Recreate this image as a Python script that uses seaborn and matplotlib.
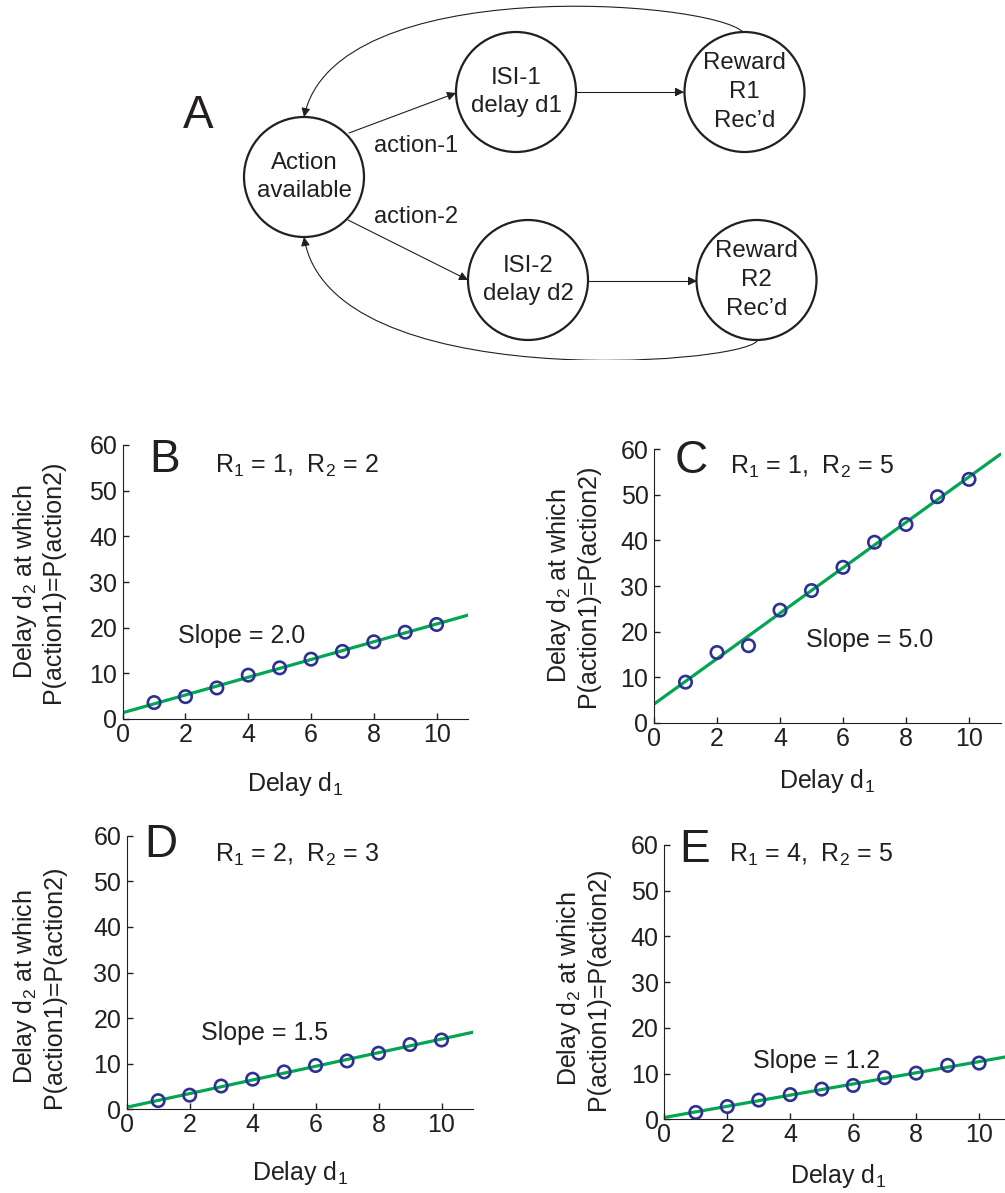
import numpy as np
import pandas as pd
import matplotlib
matplotlib.use("Agg")
import matplotlib.pyplot as plt
import seaborn as sns
from matplotlib.patches import Circle, FancyArrowPatch
from matplotlib.path import Path

# ---------------- data ----------------
delay_d1 = [1, 2, 3, 4, 5, 6, 7, 8, 9, 10]
d2_B = [3.6, 4.9, 6.8, 9.6, 11.2, 13.1, 14.8, 16.9, 19.0, 20.7]
d2_C = [8.9, 15.4, 16.9, 24.7, 29.0, 34.1, 39.6, 43.5, 49.6, 53.4]
d2_D = [1.9, 3.1, 5.1, 6.6, 8.2, 9.6, 10.6, 12.3, 14.2, 15.2]
d2_E = [1.5, 2.8, 4.2, 5.4, 6.6, 7.4, 9.1, 10.1, 11.8, 12.3]

panel_letters = ["B", "C", "D", "E"]
reward_labels = ["R$_1$ = 1,  R$_2$ = 2", "R$_1$ = 1,  R$_2$ = 5",
                 "R$_1$ = 2,  R$_2$ = 3", "R$_1$ = 4,  R$_2$ = 5"]
slope_labels = ["Slope = 2.0", "Slope = 5.0", "Slope = 1.5", "Slope = 1.2"]
x_ticks = [0, 2, 4, 6, 8, 10]
y_ticks = [0, 10, 20, 30, 40, 50, 60]
x_label = "Delay d$_1$"
y_label = "Delay d$_2$ at which\nP(action1)=P(action2)"

node_labels = ["Action\navailable", "ISI-1\ndelay d1", "Reward\nR1\nRec\u2019d",
               "ISI-2\ndelay d2", "Reward\nR2\nRec\u2019d"]
edge_labels = ["action-1", "action-2"]

# ---------------- style ----------------
sns.set_style("ticks", rc={
    "xtick.direction": "in", "ytick.direction": "in",
    "axes.edgecolor": "#231f20", "axes.linewidth": 1.4,
    "xtick.color": "#231f20", "ytick.color": "#231f20",
    "text.color": "#231f20", "axes.labelcolor": "#231f20",
})
plt.rcParams["font.family"] = ["Liberation Sans", "DejaVu Sans"]
plt.rcParams["mathtext.fontset"] = "custom"
plt.rcParams["mathtext.rm"] = "Liberation Sans"
plt.rcParams["mathtext.it"] = "Liberation Sans"
plt.rcParams["mathtext.default"] = "regular"

TXT = "#231f20"
BLUE = "#2e3192"
GREEN = "#00a651"
W, H = 1005, 1193

fig = plt.figure(figsize=(W / 100, H / 100), dpi=100)

# ---------------- diagram (panel A) ----------------
axd = fig.add_axes([0, 1 - 360 / H, 1, 360 / H])
axd.set_xlim(0, W)
axd.set_ylim(360, 0)
axd.axis("off")

node_xy = [(304, 177), (516, 92), (744.5, 92), (528, 280), (756.5, 280)]
R = 60
for (cx, cy), lab in zip(node_xy, node_labels):
    axd.add_patch(Circle((cx, cy), R, fill=False, ec=TXT, lw=1.6))
    lines = lab.split("\n")
    n = len(lines)
    for i, ln in enumerate(lines):
        yy = cy + (i - (n - 1) / 2) * 28.8
        axd.text(cx, yy, ln, ha="center", va="center", fontsize=17.3, color=TXT)

def arrow(path_pts, codes=None):
    if codes is None:
        codes = [Path.MOVETO] + [Path.LINETO] * (len(path_pts) - 1)
    p = FancyArrowPatch(path=Path(path_pts, codes), arrowstyle="-|>",
                        mutation_scale=13, lw=0.8, color=TXT,
                        shrinkA=0, shrinkB=0)
    axd.add_patch(p)

arrow([(349, 133), (456, 93)])
arrow([(348, 220), (468, 280)])
arrow([(576, 92), (684, 92)])
arrow([(588, 281), (697, 281)])
C4 = [Path.MOVETO, Path.CURVE4, Path.CURVE4, Path.CURVE4]
arrow([(743, 32), (710, 0), (335, -28), (304, 117)], C4)
arrow([(757, 341), (740, 365), (330, 395), (304, 237)], C4)

axd.text(374, 146, edge_labels[0], ha="left", va="center", fontsize=17, color=TXT)
axd.text(374, 217, edge_labels[1], ha="left", va="center", fontsize=17, color=TXT)
axd.text(183, 128, "A", ha="left", va="baseline", fontsize=33, color=TXT)

# ---------------- scatter panels ----------------
boxes = [(122.7, 445, 468, 719), (654, 449.3, 1000.5, 722.7),
         (126.7, 835.7, 473, 1109.3), (664.3, 845, 1010.6, 1119.3)]
series = [d2_B, d2_C, d2_D, d2_E]
letter_pos = [(0.83, 54.1), (0.67, 54.8), (0.56, 55.4), (0.48, 56.3)]
reward_pos = [(2.93, 53.9), (2.42, 54.7), (2.79, 54.3), (2.07, 56.3)]
slope_pos = [(1.76, 16.6), (4.83, 16.7), (2.36, 15.2), (2.81, 11.2)]
ylab_coords = [(-0.166, 0.5), (-0.156, 0.502), (-0.176, 0.447), (-0.157, 0.475)]
xlab_coords = [(0.5, -0.185), (0.5, -0.162), (0.5, -0.18), (0.5, -0.157)]

for i, (l, t, r, b) in enumerate(boxes):
    ax = fig.add_axes([l / W, 1 - b / H, (r - l) / W, (b - t) / H])
    ax.set_xlim(0, 11)
    ax.set_ylim(0, 60)
    df = pd.DataFrame({"d1": delay_d1, "d2": series[i]})
    sns.regplot(data=df, x="d1", y="d2", ax=ax, scatter=False, ci=None,
                truncate=False, color=GREEN, line_kws={"lw": 2.3})
    sns.scatterplot(data=df, x="d1", y="d2", ax=ax, s=80, marker="o",
                    facecolors="none", edgecolor=BLUE, linewidth=1.9,
                    zorder=3)
    ax.set_xlim(0, 11)
    ax.set_ylim(0, 60)
    ax.set_xticks(x_ticks)
    ax.set_yticks(y_ticks)
    ax.tick_params(axis="both", labelsize=18, length=4, width=1.0)
    ax.tick_params(axis="x", pad=3)
    ax.tick_params(axis="y", pad=4)
    sns.despine(ax=ax)
    ax.set_xlabel(x_label, fontsize=18)
    ax.set_ylabel(y_label, fontsize=18, linespacing=1.15)
    ax.xaxis.set_label_coords(*xlab_coords[i])
    ax.yaxis.set_label_coords(*ylab_coords[i])
    ax.text(*letter_pos[i], panel_letters[i], fontsize=33, va="baseline",
            ha="left", clip_on=False)
    ax.text(*reward_pos[i], reward_labels[i], fontsize=18, va="baseline",
            ha="left", clip_on=False)
    ax.text(*slope_pos[i], slope_labels[i], fontsize=18, va="baseline",
            ha="left", clip_on=False)

fig.savefig("out.png", dpi=100)
